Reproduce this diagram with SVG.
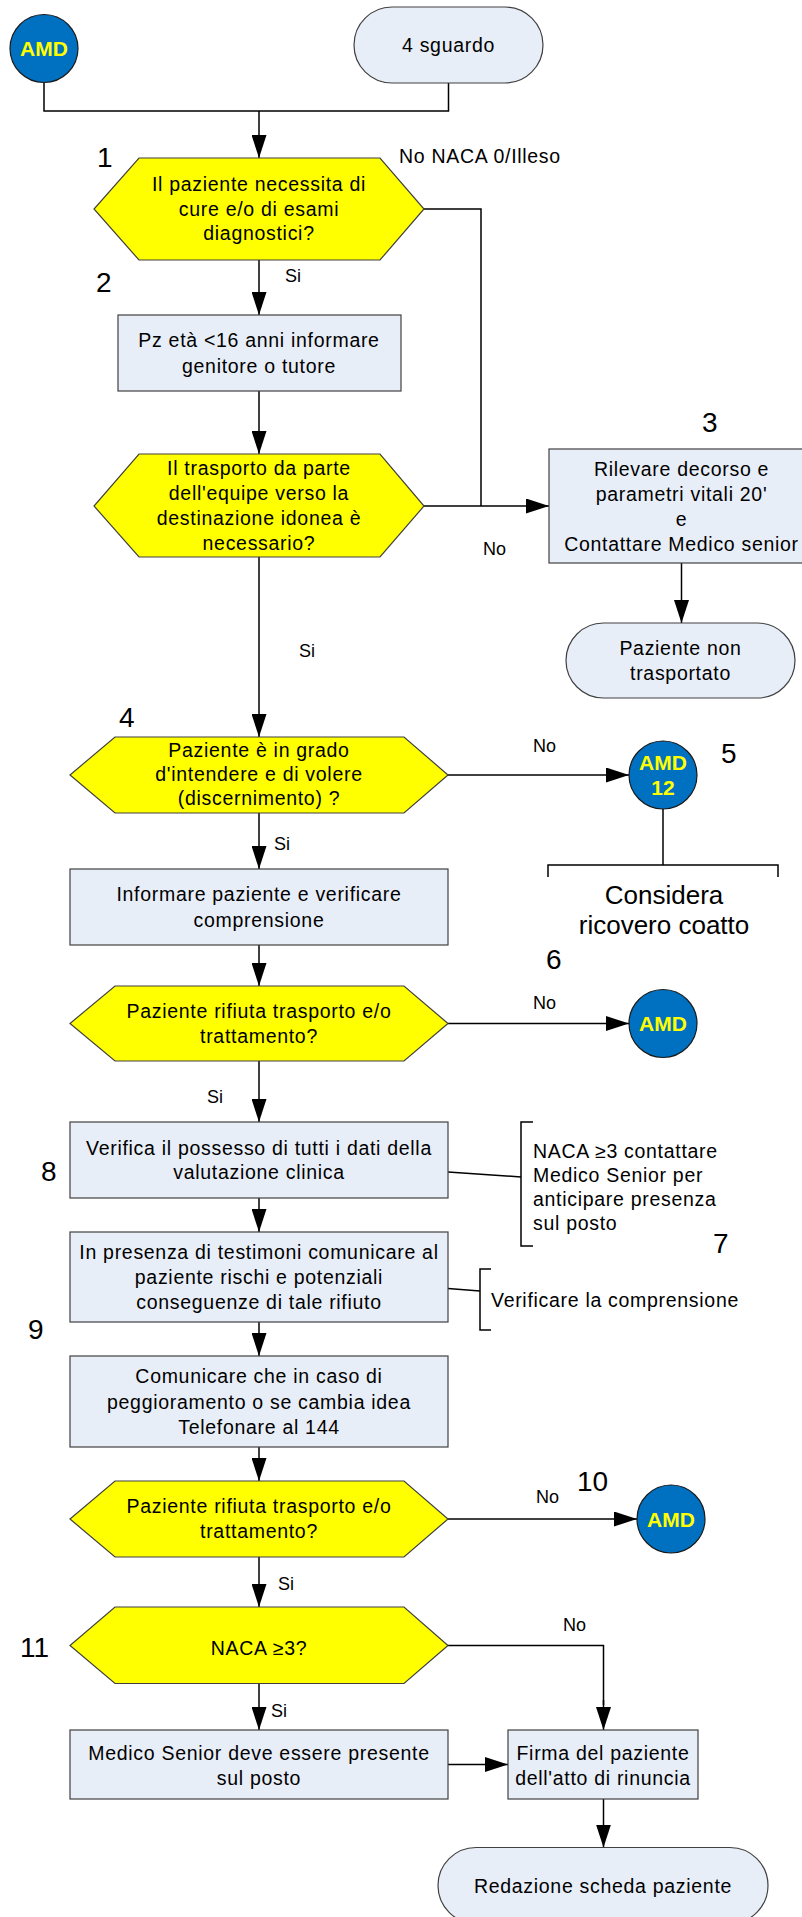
<svg xmlns="http://www.w3.org/2000/svg" width="802" height="1917" viewBox="0 0 802 1917">
  <style>
    text { font-family: "Liberation Sans", Arial, sans-serif; fill: #000; }
    .t { font-size: 19.5px; letter-spacing: 0.7px; text-anchor: middle; }
    .tl { font-size: 19.5px; letter-spacing: 0.7px; }
    .lbl { font-size: 18px; }
    .num { font-size: 28px; }
    .big { font-size: 26px; text-anchor: middle; }
    .amd { font-size: 21px; font-weight: bold; fill: #FFFF00; text-anchor: middle; }
    .box { fill: #E8EEF8; stroke: #404040; stroke-width: 1.2; }
    .dec { fill: #FFFF00; stroke: #404040; stroke-width: 1.2; }
    .term { fill: #E8EEF8; stroke: #404040; stroke-width: 1.2; }
    .circ { fill: #0070C0; stroke: #1A1A1A; stroke-width: 1.2; }
    .ln { fill: none; stroke: #000; stroke-width: 1.5; }
    .arr { fill: none; stroke: #000; stroke-width: 1.5; marker-end: url(#ah); }
  </style>
  <defs>
    <marker id="ah" markerUnits="userSpaceOnUse" markerWidth="23" markerHeight="15" refX="23" refY="7.5" orient="auto">
      <path d="M0,0 L23,7.5 L0,15 Z" fill="#000"/>
    </marker>
  </defs>

  <!-- connectors -->
  <g id="connectors">
    <path class="ln" d="M44,83 V111 H448.5 V83"/>
    <path class="arr" d="M259,111 V158"/>
    <path class="arr" d="M259,260 V315"/>
    <path class="arr" d="M259,391 V454"/>
    <path class="ln" d="M424,209 H481 V506"/>
    <path class="arr" d="M424,506 H549"/>
    <path class="arr" d="M681.5,563 V623"/>
    <path class="arr" d="M259,557 V737"/>
    <path class="arr" d="M448,775 H629"/>
    <path class="ln" d="M663,809 V865"/>
    <path class="ln" d="M548,877 V865 H778 V877"/>
    <path class="arr" d="M259,813 V869"/>
    <path class="arr" d="M259,945 V986"/>
    <path class="arr" d="M448,1023.5 H629"/>
    <path class="arr" d="M259,1061 V1122"/>
    <path class="ln" d="M448,1172 L521,1177"/>
    <path class="ln" d="M533,1122 H521 V1246 H533"/>
    <path class="arr" d="M259,1198 V1232"/>
    <path class="ln" d="M448,1288.5 L480,1291"/>
    <path class="ln" d="M491,1269 H480 V1330 H491"/>
    <path class="arr" d="M259,1322 V1356"/>
    <path class="arr" d="M259,1447 V1481"/>
    <path class="arr" d="M448,1519 H637"/>
    <path class="arr" d="M259,1557 V1607"/>
    <path class="ln" d="M448,1645.5 H603.5 V1705"/>
    <path class="arr" d="M603.5,1700 V1730"/>
    <path class="arr" d="M259,1683.5 V1730"/>
    <path class="arr" d="M448,1764.5 H508"/>
    <path class="arr" d="M603.5,1799 V1847.5"/>
  </g>

  <!-- connector labels and step numbers -->
  <g id="labels">
    <text class="tl" x="399" y="163">No NACA 0/Illeso</text>
    <text class="lbl" x="285" y="282">Si</text>
    <text class="lbl" x="483" y="555">No</text>
    <text class="lbl" x="299" y="657">Si</text>
    <text class="lbl" x="533" y="752">No</text>
    <text class="lbl" x="274" y="850">Si</text>
    <text class="lbl" x="533" y="1009">No</text>
    <text class="lbl" x="207" y="1103">Si</text>
    <text class="lbl" x="536" y="1503">No</text>
    <text class="lbl" x="278" y="1590">Si</text>
    <text class="lbl" x="563" y="1631">No</text>
    <text class="lbl" x="271" y="1717">Si</text>
    <text class="num" x="97" y="167">1</text>
    <text class="num" x="96" y="292">2</text>
    <text class="num" x="702" y="432">3</text>
    <text class="num" x="119" y="727">4</text>
    <text class="num" x="721" y="763">5</text>
    <text class="num" x="546" y="969">6</text>
    <text class="num" x="713" y="1253">7</text>
    <text class="num" x="41" y="1181">8</text>
    <text class="num" x="28" y="1339">9</text>
    <text class="num" x="577" y="1491">10</text>
    <text class="num" x="20" y="1657">11</text>
  </g>

  <g id="amd-start">
    <circle class="circ" cx="44" cy="48.5" r="34"/>
    <text class="amd" x="44" y="55.5">AMD</text>
  </g>

  <g id="start-4-sguardo">
    <rect class="term" x="354" y="7" width="189" height="76" rx="38"/>
    <text class="t" x="448.5" y="52">4 sguardo</text>
  </g>

  <g id="q1-cure">
    <polygon class="dec" points="139,158 380,158 424,209 380,260 139,260 94,209"/>
    <text class="t" x="259" y="191">Il paziente necessita di</text>
    <text class="t" x="259" y="216">cure e/o di esami</text>
    <text class="t" x="259" y="240">diagnostici?</text>
  </g>

  <g id="step2-minori">
    <rect class="box" x="118" y="315" width="283" height="76"/>
    <text class="t" x="259" y="347">Pz età &lt;16 anni informare</text>
    <text class="t" x="259" y="373">genitore o tutore</text>
  </g>

  <g id="q-trasporto">
    <polygon class="dec" points="139,454 380,454 424,506 380,557 139,557 94,506"/>
    <text class="t" x="259" y="475">Il trasporto da parte</text>
    <text class="t" x="259" y="500">dell'equipe verso la</text>
    <text class="t" x="259" y="525">destinazione idonea è</text>
    <text class="t" x="259" y="550">necessario?</text>
  </g>

  <g id="step3-decorso">
    <rect class="box" x="549" y="449" width="265" height="114"/>
    <text class="t" x="681.5" y="476">Rilevare decorso e</text>
    <text class="t" x="681.5" y="501">parametri vitali 20'</text>
    <text class="t" x="681.5" y="526">e</text>
    <text class="t" x="681.5" y="551">Contattare Medico senior</text>
  </g>

  <g id="end-non-trasportato">
    <rect class="term" x="566" y="623" width="229" height="75" rx="37.5"/>
    <text class="t" x="680.5" y="655">Paziente non</text>
    <text class="t" x="680.5" y="680">trasportato</text>
  </g>

  <g id="q4-discernimento">
    <polygon class="dec" points="115,737 404,737 448,775 404,813 115,813 70,775"/>
    <text class="t" x="259" y="757">Paziente è in grado</text>
    <text class="t" x="259" y="781">d'intendere e di volere</text>
    <text class="t" x="259" y="805">(discernimento) ?</text>
  </g>

  <g id="amd-12">
    <circle class="circ" cx="663" cy="775" r="34"/>
    <text class="amd" x="663" y="770">AMD</text>
    <text class="amd" x="663" y="795">12</text>
  </g>

  <g id="note-ricovero">
    <text class="big" x="664" y="904">Considera</text>
    <text class="big" x="664" y="934">ricovero coatto</text>
  </g>

  <g id="step-informare">
    <rect class="box" x="70" y="869" width="378" height="76"/>
    <text class="t" x="259" y="901">Informare paziente e verificare</text>
    <text class="t" x="259" y="927">comprensione</text>
  </g>

  <g id="q6-rifiuto">
    <polygon class="dec" points="115,986 404,986 448,1023.5 404,1061 115,1061 70,1023.5"/>
    <text class="t" x="259" y="1018">Paziente rifiuta trasporto e/o</text>
    <text class="t" x="259" y="1043">trattamento?</text>
  </g>

  <g id="amd-6">
    <circle class="circ" cx="663" cy="1023.5" r="34"/>
    <text class="amd" x="663" y="1031">AMD</text>
  </g>

  <g id="step8-dati">
    <rect class="box" x="70" y="1122" width="378" height="76"/>
    <text class="t" x="259" y="1155">Verifica il possesso di tutti i dati della</text>
    <text class="t" x="259" y="1179">valutazione clinica</text>
  </g>

  <g id="note7-naca">
    <text class="tl" x="533" y="1158">NACA ≥3 contattare</text>
    <text class="tl" x="533" y="1182">Medico Senior per</text>
    <text class="tl" x="533" y="1206">anticipare presenza</text>
    <text class="tl" x="533" y="1230">sul posto</text>
  </g>

  <g id="step-testimoni">
    <rect class="box" x="70" y="1232" width="378" height="90"/>
    <text class="t" x="259" y="1259">In presenza di testimoni comunicare al</text>
    <text class="t" x="259" y="1284">paziente rischi e potenziali</text>
    <text class="t" x="259" y="1309">conseguenze di tale rifiuto</text>
  </g>

  <g id="note-comprensione">
    <text class="tl" x="491" y="1307">Verificare la comprensione</text>
  </g>

  <g id="step9-144">
    <rect class="box" x="70" y="1356" width="378" height="91"/>
    <text class="t" x="259" y="1383">Comunicare che in caso di</text>
    <text class="t" x="259" y="1409">peggioramento o se cambia idea</text>
    <text class="t" x="259" y="1434">Telefonare al 144</text>
  </g>

  <g id="q10-rifiuto">
    <polygon class="dec" points="115,1481 404,1481 448,1519 404,1557 115,1557 70,1519"/>
    <text class="t" x="259" y="1513">Paziente rifiuta trasporto e/o</text>
    <text class="t" x="259" y="1538">trattamento?</text>
  </g>

  <g id="amd-10">
    <circle class="circ" cx="671" cy="1519" r="34"/>
    <text class="amd" x="671" y="1526.5">AMD</text>
  </g>

  <g id="q11-naca">
    <polygon class="dec" points="115,1607 404,1607 448,1645.5 404,1683.5 115,1683.5 70,1645.5"/>
    <text class="t" x="259" y="1655">NACA ≥3?</text>
  </g>

  <g id="step-medico-senior">
    <rect class="box" x="70" y="1730" width="378" height="69"/>
    <text class="t" x="259" y="1760">Medico Senior deve essere presente</text>
    <text class="t" x="259" y="1785">sul posto</text>
  </g>

  <g id="step-firma">
    <rect class="box" x="508" y="1730" width="190" height="69"/>
    <text class="t" x="603" y="1760">Firma del paziente</text>
    <text class="t" x="603" y="1785">dell'atto di rinuncia</text>
  </g>

  <g id="end-scheda">
    <rect class="term" x="438" y="1847.5" width="330" height="76" rx="38"/>
    <text class="t" x="603" y="1893">Redazione scheda paziente</text>
  </g>
</svg>
